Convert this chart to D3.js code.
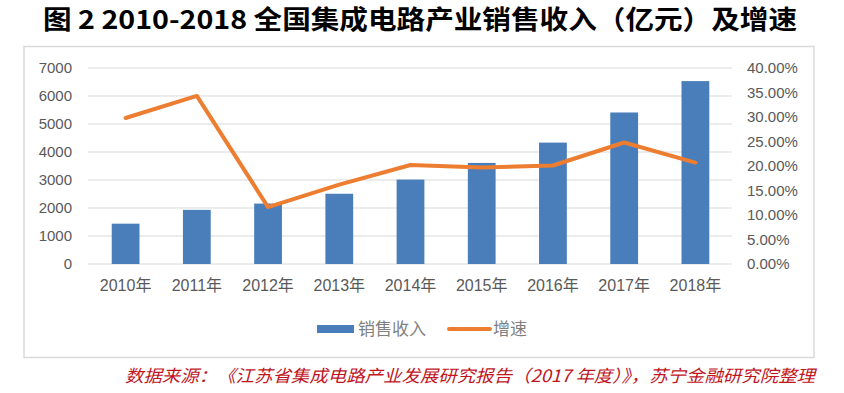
<!DOCTYPE html>
<html><head><meta charset="utf-8">
<script src="https://cdn.jsdelivr.net/npm/d3@7/dist/d3.min.js"></script>
<style>
html,body{margin:0;padding:0;background:#fff;}
svg{display:block;}
</style></head>
<body>
<svg id="c" width="844" height="393"></svg>
<script>
const categories = ["2010年","2011年","2012年","2013年","2014年","2015年","2016年","2017年","2018年"];
const sales = [1440, 1933.7, 2158.5, 2508.5, 3015.4, 3609.8, 4335.5, 5411.3, 6532.0];
const growth = [0.298, 0.343, 0.116, 0.162, 0.202, 0.197, 0.201, 0.248, 0.207];
const leftTicks = [0,1000,2000,3000,4000,5000,6000,7000];
const rightTicks = [0,0.05,0.10,0.15,0.20,0.25,0.30,0.35,0.40];
const seriesNames = ["销售收入","增速"];
const titleText = "图 2 2010-2018 全国集成电路产业销售收入（亿元）及增速";
const sourceText = "数据来源：《江苏省集成电路产业发展研究报告（2017 年度）》，苏宁金融研究院整理";

const svg = d3.select("#c");
const barColor = "#4A7EBB", lineColor = "#ED7D31", textGrey = "#595959", gridGrey = "#d9d9d9";
const numFont = "'Liberation Sans','Noto Sans CJK SC',sans-serif";
const cjkFont = "'Noto Sans CJK SC',sans-serif";

// title
svg.append("text").attr("x",43).attr("y",29)
  .attr("font-family",cjkFont).attr("font-weight","bold").attr("font-size",26)
  .attr("fill","#000").attr("textLength",754).attr("lengthAdjust","spacingAndGlyphs")
  .text(titleText);

// chart border
svg.append("rect").attr("x",24).attr("y",46.5).attr("width",790).attr("height",311)
  .attr("fill","#fff").attr("stroke",gridGrey).attr("stroke-width",1.5);

const x = d3.scaleBand().domain(categories).range([90,731]).padding(0);
const yL = d3.scaleLinear().domain([0,7000]).range([264,68]);
const yR = d3.scaleLinear().domain([0,0.4]).range([264,68]);
const barW = x.bandwidth()*0.39;

// grid
svg.append("g").selectAll("line").data(leftTicks).join("line")
  .attr("x1",88).attr("x2",732).attr("y1",d=>yL(d)).attr("y2",d=>yL(d))
  .attr("stroke",gridGrey).attr("stroke-width",1);

// left axis
const axL = svg.append("g").attr("transform","translate(86,0)")
  .call(d3.axisLeft(yL).tickValues(leftTicks).tickSize(0).tickPadding(14).tickFormat(d3.format("d")));
axL.select(".domain").remove();
axL.selectAll("text").attr("font-family",numFont).attr("font-size",15).attr("fill",textGrey);

// right axis
const axR = svg.append("g").attr("transform","translate(733,0)")
  .call(d3.axisRight(yR).tickValues(rightTicks).tickSize(0).tickPadding(14).tickFormat(d3.format(".2%")));
axR.select(".domain").remove();
axR.selectAll("text").attr("font-family",numFont).attr("font-size",15).attr("fill",textGrey);

// x axis labels
const axX = svg.append("g").attr("transform","translate(0,264)")
  .call(d3.axisBottom(x).tickSize(0).tickPadding(16));
axX.select(".domain").remove();
axX.selectAll("text").attr("font-family",numFont).attr("font-size",16).attr("fill",textGrey);

// bars
svg.append("g").selectAll("rect").data(sales).join("rect")
  .attr("x",(d,i)=>x(categories[i])+x.bandwidth()/2-barW/2)
  .attr("width",barW)
  .attr("y",d=>yL(d)).attr("height",d=>yL(0)-yL(d))
  .attr("fill",barColor);

// line
const line = d3.line().x((d,i)=>x(categories[i])+x.bandwidth()/2).y(d=>yR(d));
svg.append("path").datum(growth).attr("d",line)
  .attr("fill","none").attr("stroke",lineColor).attr("stroke-width",4)
  .attr("stroke-linejoin","round").attr("stroke-linecap","round");

// legend
const lg = svg.append("g");
lg.append("rect").attr("x",317).attr("y",325).attr("width",37).attr("height",8).attr("fill",barColor);
lg.append("text").attr("x",358).attr("y",335).attr("font-family",cjkFont).attr("font-size",17)
  .attr("fill","#808080").text(seriesNames[0]);
lg.append("line").attr("x1",449).attr("x2",490).attr("y1",329).attr("y2",329)
  .attr("stroke",lineColor).attr("stroke-width",4).attr("stroke-linecap","round");
lg.append("text").attr("x",493).attr("y",335).attr("font-family",cjkFont).attr("font-size",17)
  .attr("fill","#808080").text(seriesNames[1]);

// source
svg.append("text").attr("x",125).attr("y",382)
  .attr("font-family",cjkFont).attr("font-size",17).attr("font-style","italic")
  .attr("fill","#C0141E").attr("textLength",690).attr("lengthAdjust","spacingAndGlyphs")
  .text(sourceText);
</script>
</body></html>
